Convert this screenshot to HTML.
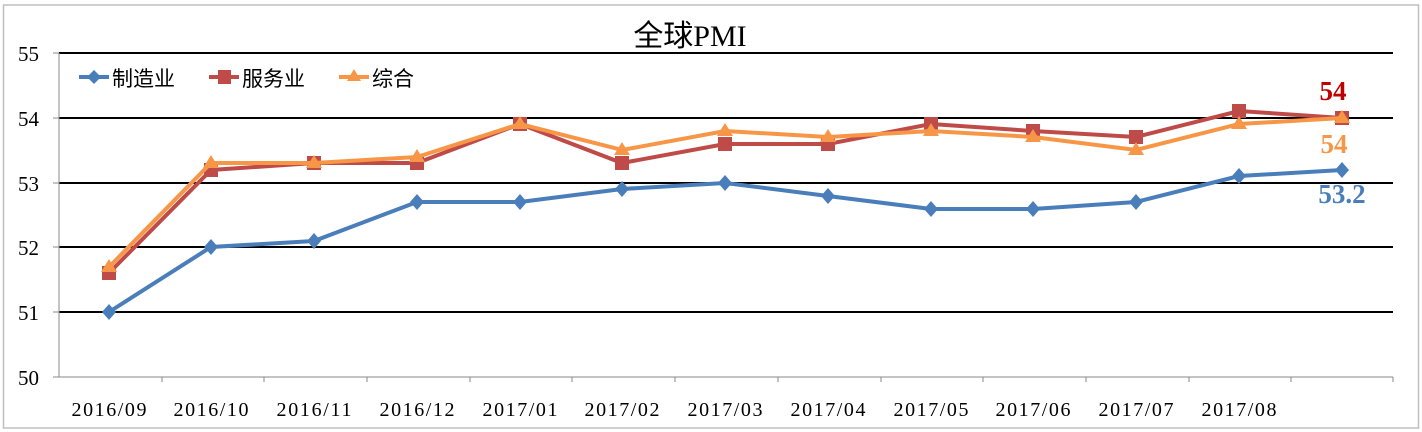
<!DOCTYPE html>
<html><head><meta charset="utf-8"><style>body{margin:0;background:#fff}svg{display:block}</style></head><body>
<svg width="1422" height="432" xmlns="http://www.w3.org/2000/svg" font-family="Liberation Serif, Noto Serif CJK SC, serif">
<rect x="3.5" y="5" width="1415" height="423" fill="#fff" stroke="#bfbfbf" stroke-width="1.5"/>
<text x="690" y="46" font-size="30" text-anchor="middle" font-family="Liberation Serif, Noto Sans CJK SC, serif">全球PMI</text>
<g stroke="#000" stroke-width="2">
<line x1="59" y1="53" x2="1393" y2="53"/><line x1="59" y1="118" x2="1393" y2="118"/><line x1="59" y1="183" x2="1393" y2="183"/><line x1="59" y1="247" x2="1393" y2="247"/><line x1="59" y1="312" x2="1393" y2="312"/>
</g>
<g stroke="#888" stroke-width="1">
<line x1="59" y1="53" x2="59" y2="377"/><line x1="53" y1="377" x2="1393" y2="377"/>
<line x1="53" y1="53" x2="59" y2="53"/><line x1="53" y1="118" x2="59" y2="118"/><line x1="53" y1="183" x2="59" y2="183"/><line x1="53" y1="247" x2="59" y2="247"/><line x1="53" y1="312" x2="59" y2="312"/>
<path d="M162 377v5M264 377v5M367 377v5M470 377v5M572 377v5M675 377v5M778 377v5M881 377v5M983 377v5M1086 377v5M1189 377v5M1291 377v5M1393 377v5"/>
</g>
<g font-size="21" text-anchor="end">
<text x="39" y="61">55</text><text x="39" y="126">54</text><text x="39" y="191">53</text><text x="39" y="255">52</text><text x="39" y="320">51</text><text x="39" y="385">50</text>
</g>
<g font-size="20" text-anchor="middle">
<text x="109" y="416" textLength="75">2016/09</text><text x="211" y="416" textLength="75">2016/10</text><text x="314" y="416" textLength="75">2016/11</text><text x="417" y="416" textLength="75">2016/12</text><text x="520" y="416" textLength="75">2017/01</text><text x="622" y="416" textLength="75">2017/02</text><text x="725" y="416" textLength="75">2017/03</text><text x="828" y="416" textLength="75">2017/04</text><text x="931" y="416" textLength="75">2017/05</text><text x="1033" y="416" textLength="75">2017/06</text><text x="1136" y="416" textLength="75">2017/07</text><text x="1239" y="416" textLength="75">2017/08</text>
</g>
<polyline fill="none" stroke="#4a7ebb" stroke-width="4" points="109,312 211,247 314,241 417,202 520,202 622,189 725,183 828,196 931,209 1033,209 1136,202 1239,176 1342,170"/>
<g fill="#4a7ebb">
<path d="M109 304l7 8-7 8-7-8z"/><path d="M211 239l7 8-7 8-7-8z"/><path d="M314 233l7 8-7 8-7-8z"/><path d="M417 194l7 8-7 8-7-8z"/><path d="M520 194l7 8-7 8-7-8z"/><path d="M622 181l7 8-7 8-7-8z"/><path d="M725 175l7 8-7 8-7-8z"/><path d="M828 188l7 8-7 8-7-8z"/><path d="M931 201l7 8-7 8-7-8z"/><path d="M1033 201l7 8-7 8-7-8z"/><path d="M1136 194l7 8-7 8-7-8z"/><path d="M1239 168l7 8-7 8-7-8z"/><path d="M1342 162l7 8-7 8-7-8z"/>
</g>
<polyline fill="none" stroke="#be4b48" stroke-width="4" points="109,273 211,170 314,163 417,163 520,124 622,163 725,144 828,144 931,124 1033,131 1136,137 1239,111 1342,118"/>
<g fill="#be4b48">
<rect x="102" y="266" width="14" height="14"/><rect x="204" y="163" width="14" height="14"/><rect x="307" y="156" width="14" height="14"/><rect x="410" y="156" width="14" height="14"/><rect x="513" y="117" width="14" height="14"/><rect x="615" y="156" width="14" height="14"/><rect x="718" y="137" width="14" height="14"/><rect x="821" y="137" width="14" height="14"/><rect x="924" y="117" width="14" height="14"/><rect x="1026" y="124" width="14" height="14"/><rect x="1129" y="130" width="14" height="14"/><rect x="1232" y="104" width="14" height="14"/><rect x="1335" y="111" width="14" height="14"/>
</g>
<polyline fill="none" stroke="#f79646" stroke-width="4" points="109,267 211,163 314,163 417,157 520,124 622,150 725,131 828,137 931,131 1033,137 1136,150 1239,124 1342,118"/>
<g fill="#f79646">
<path d="M109 259l8 13h-16z"/><path d="M211 155l8 13h-16z"/><path d="M314 155l8 13h-16z"/><path d="M417 149l8 13h-16z"/><path d="M520 116l8 13h-16z"/><path d="M622 142l8 13h-16z"/><path d="M725 123l8 13h-16z"/><path d="M828 129l8 13h-16z"/><path d="M931 123l8 13h-16z"/><path d="M1033 129l8 13h-16z"/><path d="M1136 142l8 13h-16z"/><path d="M1239 116l8 13h-16z"/><path d="M1342 110l8 13h-16z"/>
</g>
<g font-size="27" font-weight="bold" text-anchor="middle">
<text x="1333" y="100" fill="#c00000">54</text>
<text x="1334" y="153" fill="#f79646">54</text>
<text x="1342" y="203" fill="#4a7ebb">53.2</text>
</g>
<g font-size="21" font-family="Liberation Sans, Noto Sans CJK SC, sans-serif">
<line x1="79" y1="77" x2="109" y2="77" stroke="#4a7ebb" stroke-width="4"/><path d="M94 70l7 7-7 7-7-7z" fill="#4a7ebb"/>
<text x="112" y="86">制造业</text>
<line x1="209" y1="77" x2="239" y2="77" stroke="#be4b48" stroke-width="4"/><rect x="218" y="70" width="13" height="14" fill="#be4b48"/>
<text x="242" y="86">服务业</text>
<line x1="339" y1="77" x2="369" y2="77" stroke="#f79646" stroke-width="4"/><path d="M354 69l7 12h-14z" fill="#f79646"/>
<text x="372" y="86">综合</text>
</g>
</svg>
</body></html>
